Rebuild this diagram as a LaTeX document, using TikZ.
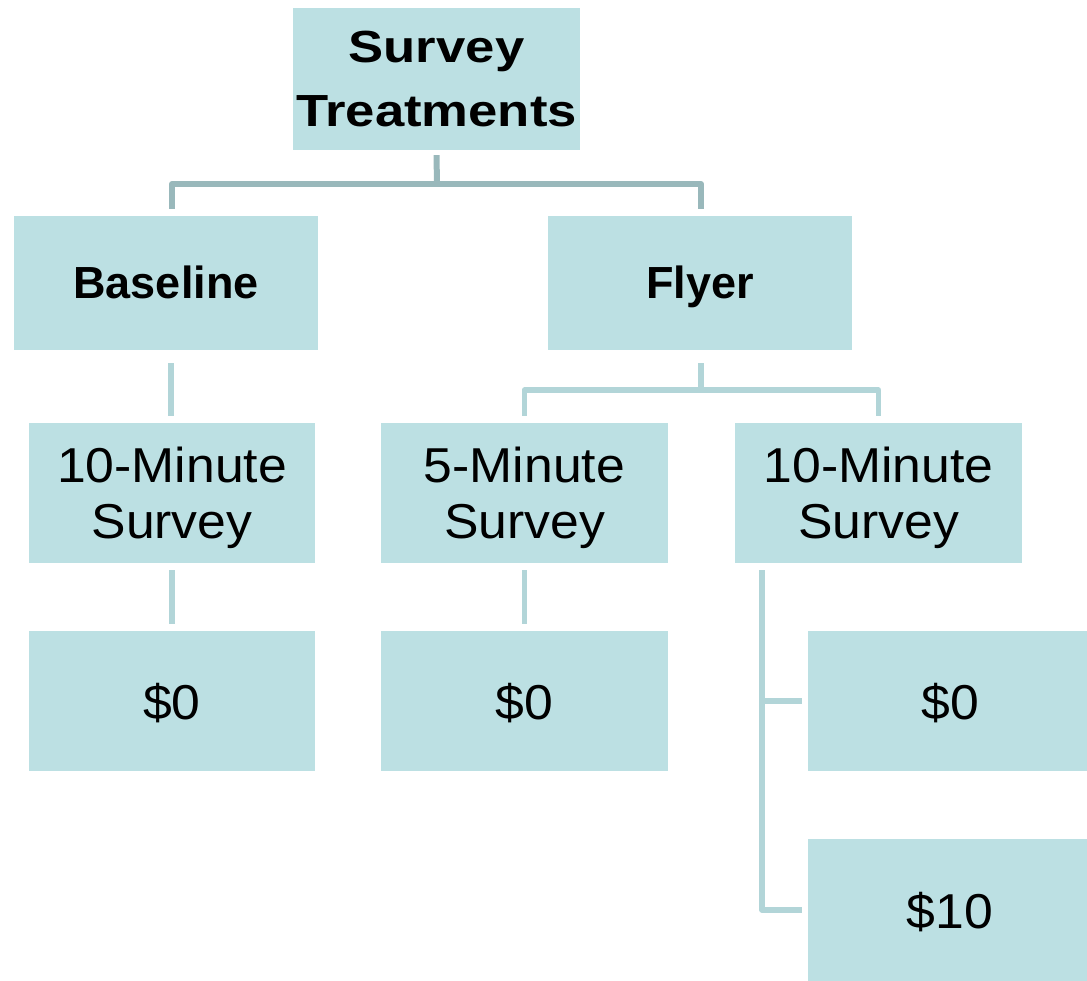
\documentclass[tikz,border=0pt]{standalone}
\usepackage{fontspec}
\setmainfont{Liberation Sans}
\newfontfamily\widebold[FakeStretch=1.17]{Liberation Sans Bold}
\newfontfamily\wideplain[FakeStretch=1.055]{Liberation Sans}
\definecolor{boxfill}{HTML}{BCE0E3}
\definecolor{conndark}{HTML}{99B8BB}
\definecolor{connlight}{HTML}{B2D5D8}
\tikzset{
  box/.style={fill=boxfill, draw=none, inner sep=0pt, align=center, text=black, text depth=0pt},
  titlebox/.style={box, font=\fontsize{45}{64}\selectfont\widebold},
  boldbox/.style={box, font=\fontsize{45}{57}\selectfont\bfseries, text height=32pt},
  plainbox/.style={box, font=\fontsize{49}{56}\selectfont\wideplain},
  conn/.style={draw=connlight, line width=5.5pt},
  conntop/.style={draw=conndark, line width=6pt},
}
\begin{document}
\begin{tikzpicture}[x=1pt,y=-1pt]
\useasboundingbox (0,0) rectangle (1087,981);
\node[titlebox, minimum width=287pt, minimum height=142pt] (top) at (436.5,79) {Survey\\Treatments};
\node[boldbox, minimum width=304pt, minimum height=134pt] (base) at (166,283) {Baseline};
\node[boldbox, minimum width=304pt, minimum height=134pt] (flyer) at (700,283) {Flyer};
\node[plainbox, minimum width=286pt, minimum height=140pt] (tenL) at (172,493) {10-Minute\\Survey};
\node[plainbox, minimum width=287pt, minimum height=140pt] (five) at (524.5,493) {5-Minute\\Survey};
\node[plainbox, minimum width=287pt, minimum height=140pt] (tenR) at (878.5,493) {10-Minute\\Survey};
\node[plainbox, minimum width=286pt, minimum height=140pt] (zeroL) at (172,701) {\$0};
\node[plainbox, minimum width=287pt, minimum height=140pt] (zeroM) at (524.5,701) {\$0};
\node[plainbox, minimum width=284pt, minimum height=140pt] (zeroR) at (950,701) {\$0};
\node[plainbox, minimum width=284pt, minimum height=142pt] (ten) at (950,910) {\$10};
% top connectors
\coordinate (j1) at (437,184);
\draw[conntop] ([yshift=-5pt]top.south) -- (j1);
\draw[conntop, line join=round] ([xshift=6pt,yshift=7pt]base.north) |- (j1) -| ([xshift=1pt,yshift=7pt]flyer.north);
% baseline
\draw[conn] ([xshift=5pt,yshift=-13pt]base.south) -- ([xshift=-1pt,yshift=7pt]tenL.north);
% flyer
\coordinate (j2) at (701,390);
\draw[conn] ([xshift=1pt,yshift=-13pt]flyer.south) -- (j2);
\draw[conn, line join=round] ([yshift=7pt]five.north) |- (j2) -| ([yshift=7pt]tenR.north);
% lower
\draw[conn] ([yshift=-7pt]tenL.south) -- ([yshift=7pt]zeroL.north);
\draw[conn] ([yshift=-7pt]five.south) -- ([yshift=7pt]zeroM.north);
\coordinate (t0) at ([xshift=-116.5pt,yshift=-7pt]tenR.south);
\draw[conn, line join=round] (t0) |- ([xshift=-6pt]ten.west);
\draw[conn] (t0 |- zeroR.west) -- ([xshift=-6pt]zeroR.west);
\end{tikzpicture}
\end{document}
